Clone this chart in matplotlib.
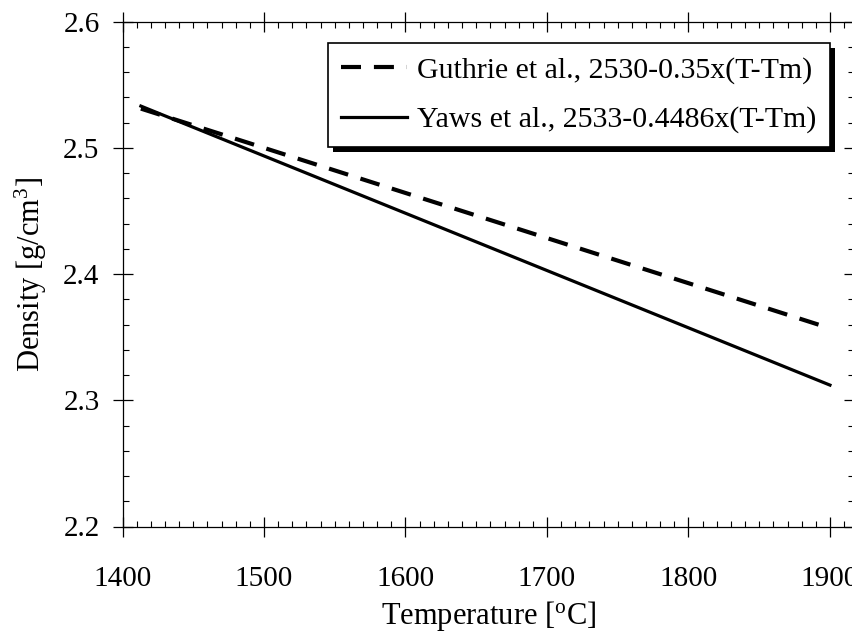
import matplotlib
matplotlib.use("Agg")
import matplotlib.pyplot as plt
from matplotlib.ticker import MultipleLocator
from matplotlib.patches import Rectangle

plt.rcParams['font.family'] = ['Liberation Serif', 'DejaVu Serif']
plt.rcParams['mathtext.fontset'] = 'custom'
plt.rcParams['mathtext.rm'] = 'Liberation Serif'
plt.rcParams['mathtext.it'] = 'Liberation Serif:italic'

# Data
temperature = [1413, 1900]
guthrie = [2.531, 2.357]
yaws = [2.533, 2.312]
labels = ["Guthrie et al., 2530-0.35x(T-Tm)", "Yaws et al., 2533-0.4486x(T-Tm)"]
xticks = [1400, 1500, 1600, 1700, 1800, 1900]
yticks = [2.2, 2.3, 2.4, 2.5, 2.6]

W, H = 852, 639
fig = plt.figure(figsize=(W / 100, H / 100), dpi=100)
left, right, top, bottom = 122.5, 854.0, 21.5, 526.5
ax = fig.add_axes([left / W, 1 - bottom / H, (right - left) / W, (bottom - top) / H])

ax.plot(temperature, guthrie, color='black', lw=3.0, dashes=(4.8, 3.1),
        solid_capstyle='butt', label=labels[0])
ax.plot(temperature, yaws, color='black', lw=2.3, label=labels[1])

ax.set_xlim(1400, 1917)
ax.set_ylim(2.2, 2.6)
ax.set_xticks(xticks)
ax.set_yticks(yticks)
ax.set_yticklabels([f"{v:.1f}" for v in yticks])
ax.xaxis.set_minor_locator(MultipleLocator(10))
ax.yaxis.set_minor_locator(MultipleLocator(0.02))

for s in ax.spines.values():
    s.set_linewidth(0.9)

ax.tick_params(which='major', direction='inout', length=15, width=0.9,
               top=True, right=True, labelsize=21)
ax.tick_params(which='minor', direction='in', length=4.5, width=0.8,
               top=True, right=True)
ax.tick_params(axis='x', which='major', pad=21)
ax.tick_params(axis='y', which='major', pad=9)

ax.set_xlabel(r"Temperature [$^{\rm o}$C]", fontsize=22, labelpad=5)
ax.set_ylabel(r"Density [g/cm$^3$]", fontsize=22, labelpad=10)

leg = ax.legend(loc='upper right', bbox_to_anchor=(830 / W, 1 - 43 / H),
                bbox_transform=fig.transFigure, fontsize=21.5, frameon=True,
                fancybox=False, edgecolor='black', framealpha=1,
                handlelength=2.2, handletextpad=0.35, borderpad=0.45,
                labelspacing=0.75, borderaxespad=0)
leg.get_frame().set_linewidth(1.2)
leg.set_zorder(5)

fig.canvas.draw()
bb = leg.get_window_extent()
off = 5
shadow = Rectangle((bb.x0 + off, bb.y0 - off), bb.width, bb.height,
                   transform=None, facecolor='black', edgecolor='none',
                   zorder=4.9, clip_on=False)
ax.add_artist(shadow)

fig.savefig("out.png", dpi=100)
